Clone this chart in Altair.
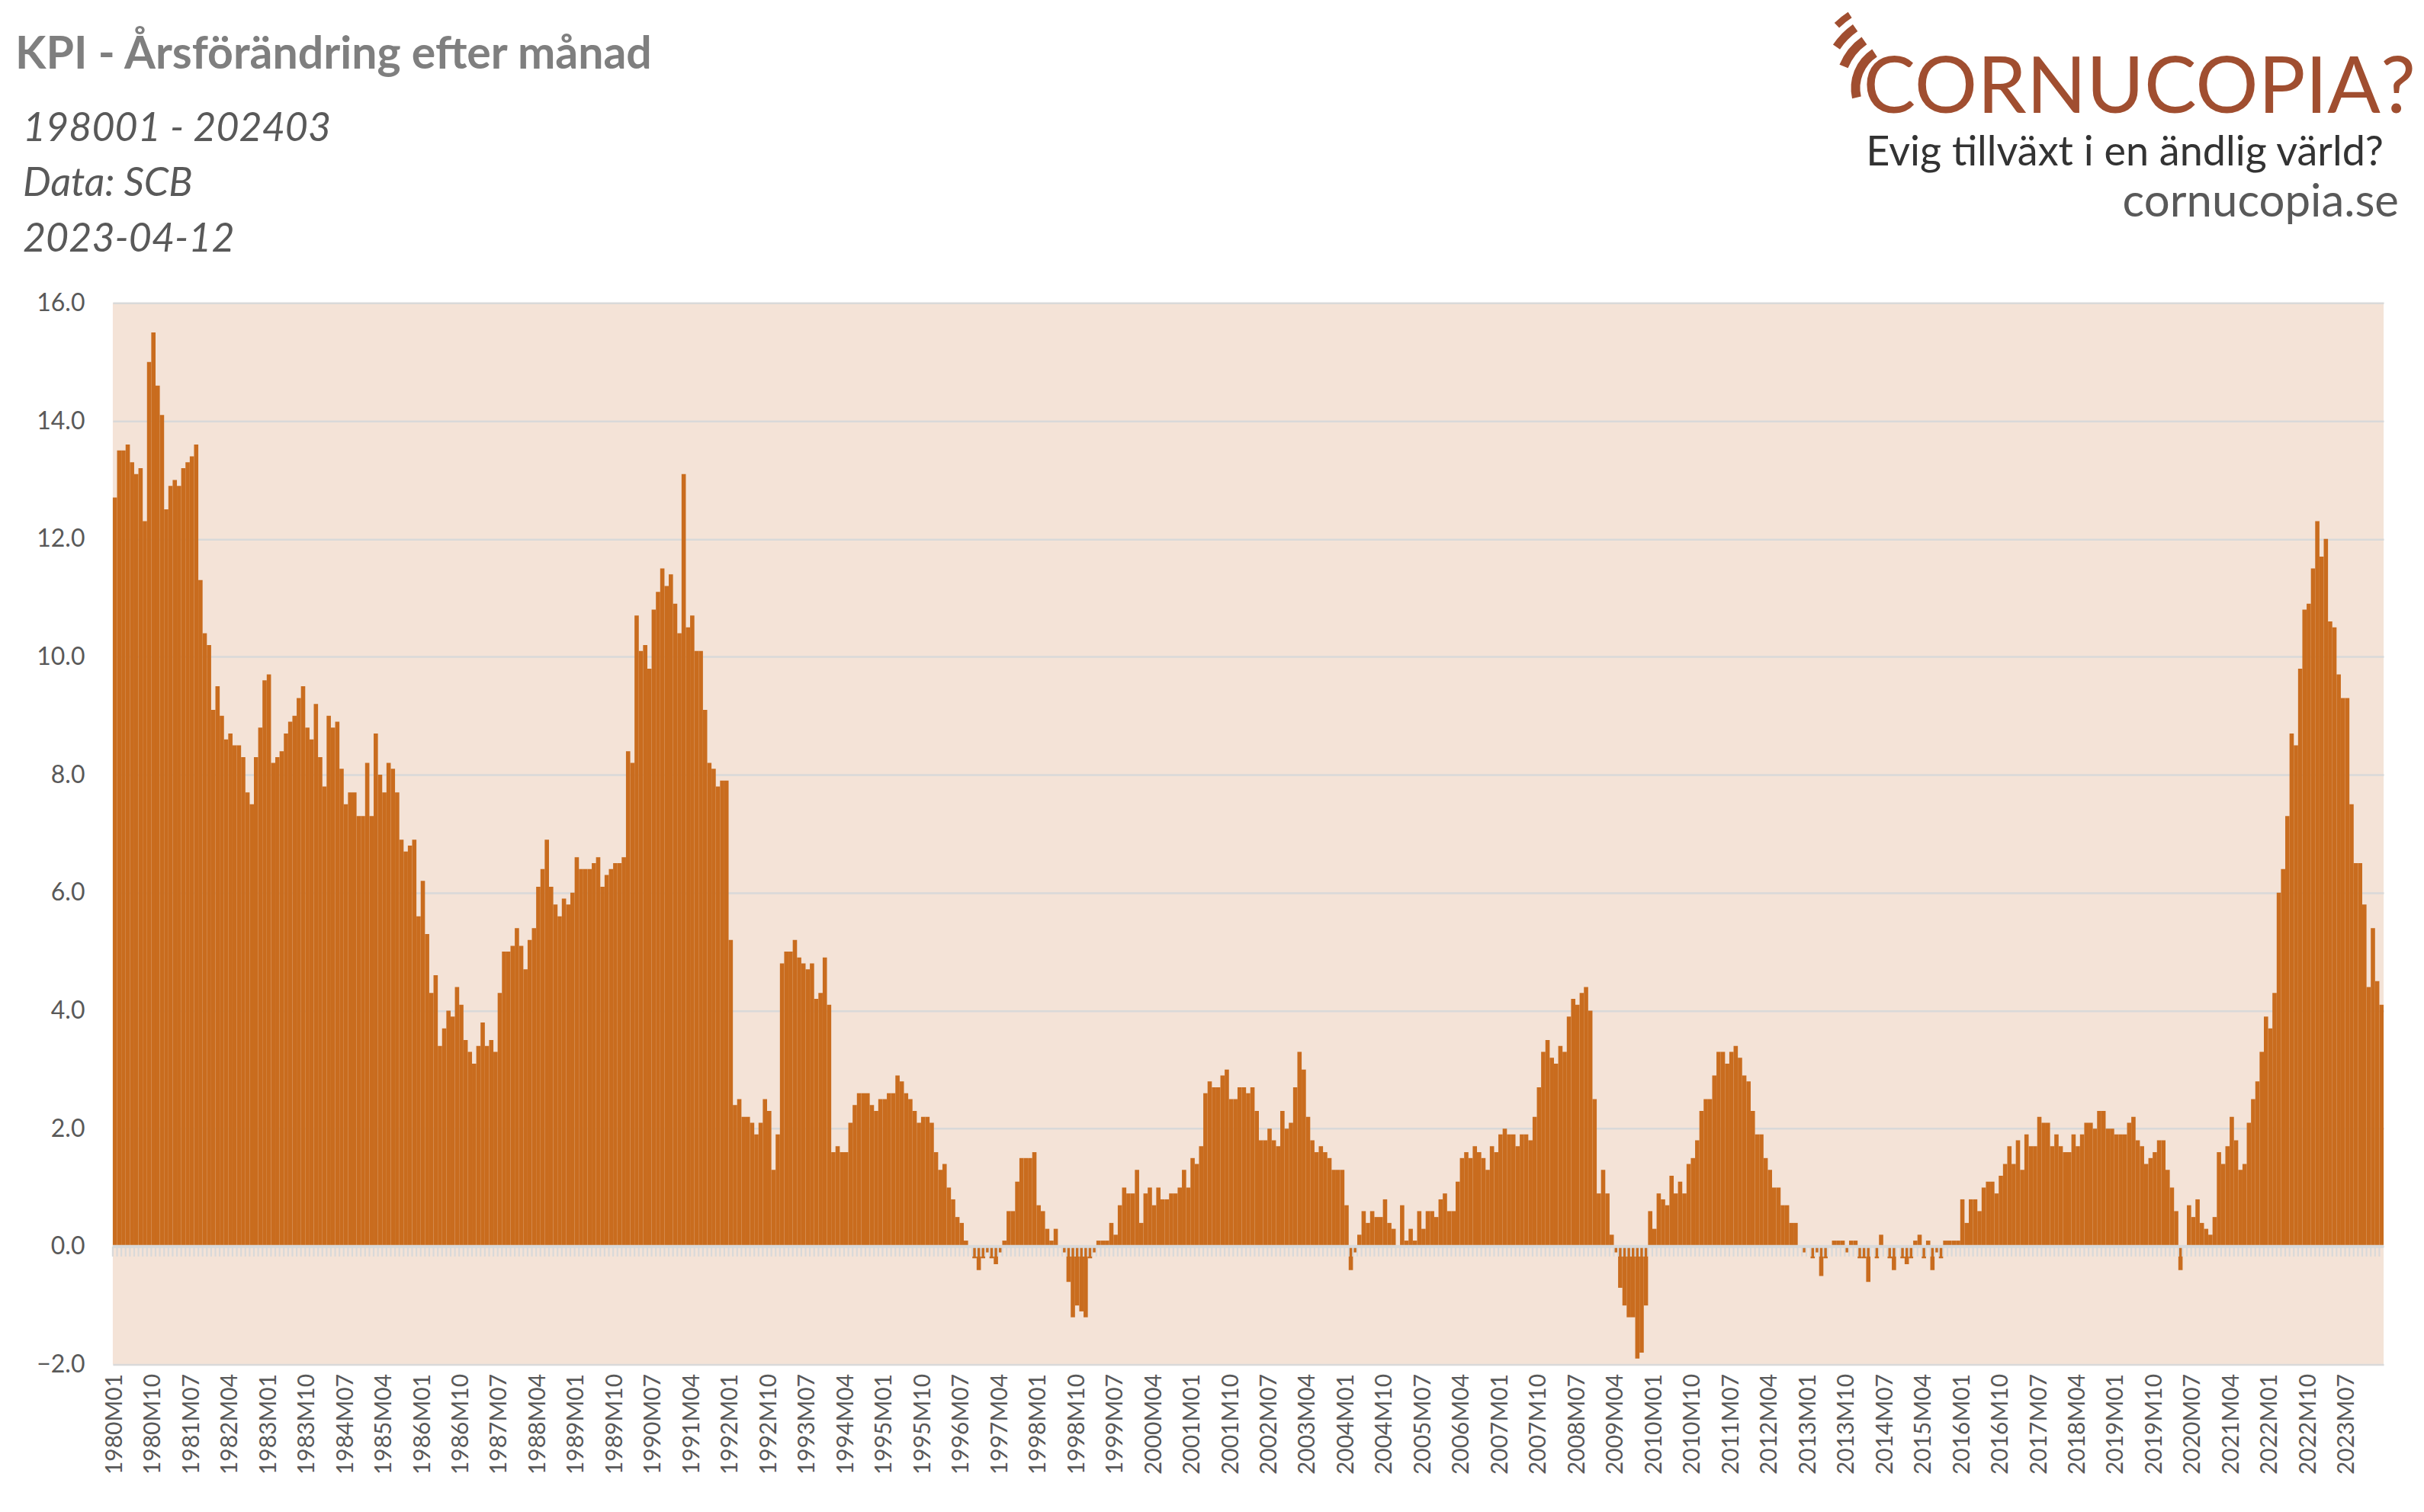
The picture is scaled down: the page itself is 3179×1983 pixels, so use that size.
import math
import altair as alt
import pandas as pd

# ---------------- texts ----------------
title_text = "KPI - Årsförändring efter månad"
subtitle_lines = ["198001 - 202403", "Data: SCB", "2023-04-12"]
logo_text = "CORNUCOPIA?"
slogan_text = "Evig tillväxt i en ändlig värld?"
site_text = "cornucopia.se"

# ---------------- data (KPI, annual change in %, per month) ----------------
kpi_1980 = [12.7, 13.5, 13.5, 13.6, 13.3, 13.1, 13.2, 12.3, 15.0, 15.5, 14.6, 14.1]
kpi_1981 = [12.5, 12.9, 13.0, 12.9, 13.2, 13.3, 13.4, 13.6, 11.3, 10.4, 10.2, 9.1]
kpi_1982 = [9.5, 9.0, 8.6, 8.7, 8.5, 8.5, 8.3, 7.7, 7.5, 8.3, 8.8, 9.6]
kpi_1983 = [9.7, 8.2, 8.3, 8.4, 8.7, 8.9, 9.0, 9.3, 9.5, 8.8, 8.6, 9.2]
kpi_1984 = [8.3, 7.8, 9.0, 8.8, 8.9, 8.1, 7.5, 7.7, 7.7, 7.3, 7.3, 8.2]
kpi_1985 = [7.3, 8.7, 8.0, 7.7, 8.2, 8.1, 7.7, 6.9, 6.7, 6.8, 6.9, 5.6]
kpi_1986 = [6.2, 5.3, 4.3, 4.6, 3.4, 3.7, 4.0, 3.9, 4.4, 4.1, 3.5, 3.3]
kpi_1987 = [3.1, 3.4, 3.8, 3.4, 3.5, 3.3, 4.3, 5.0, 5.0, 5.1, 5.4, 5.1]
kpi_1988 = [4.7, 5.2, 5.4, 6.1, 6.4, 6.9, 6.1, 5.8, 5.6, 5.9, 5.8, 6.0]
kpi_1989 = [6.6, 6.4, 6.4, 6.4, 6.5, 6.6, 6.1, 6.3, 6.4, 6.5, 6.5, 6.6]
kpi_1990 = [8.4, 8.2, 10.7, 10.1, 10.2, 9.8, 10.8, 11.1, 11.5, 11.2, 11.4, 10.9]
kpi_1991 = [10.4, 13.1, 10.5, 10.7, 10.1, 10.1, 9.1, 8.2, 8.1, 7.8, 7.9, 7.9]
kpi_1992 = [5.2, 2.4, 2.5, 2.2, 2.2, 2.1, 1.9, 2.1, 2.5, 2.3, 1.3, 1.9]
kpi_1993 = [4.8, 5.0, 5.0, 5.2, 4.9, 4.8, 4.7, 4.8, 4.2, 4.3, 4.9, 4.1]
kpi_1994 = [1.6, 1.7, 1.6, 1.6, 2.1, 2.4, 2.6, 2.6, 2.6, 2.4, 2.3, 2.5]
kpi_1995 = [2.5, 2.6, 2.6, 2.9, 2.8, 2.6, 2.5, 2.3, 2.1, 2.2, 2.2, 2.1]
kpi_1996 = [1.6, 1.3, 1.4, 1.0, 0.8, 0.5, 0.4, 0.1, 0.0, -0.2, -0.4, -0.2]
kpi_1997 = [-0.1, -0.2, -0.3, -0.1, 0.1, 0.6, 0.6, 1.1, 1.5, 1.5, 1.5, 1.6]
kpi_1998 = [0.7, 0.6, 0.3, 0.1, 0.3, 0.0, -0.1, -0.6, -1.2, -1.0, -1.1, -1.2]
kpi_1999 = [-0.2, -0.1, 0.1, 0.1, 0.1, 0.4, 0.2, 0.7, 1.0, 0.9, 0.9, 1.3]
kpi_2000 = [0.4, 0.9, 1.0, 0.7, 1.0, 0.8, 0.8, 0.9, 0.9, 1.0, 1.3, 1.0]
kpi_2001 = [1.5, 1.4, 1.7, 2.6, 2.8, 2.7, 2.7, 2.9, 3.0, 2.5, 2.5, 2.7]
kpi_2002 = [2.7, 2.6, 2.7, 2.3, 1.8, 1.8, 2.0, 1.8, 1.7, 2.3, 2.0, 2.1]
kpi_2003 = [2.7, 3.3, 3.0, 2.2, 1.8, 1.6, 1.7, 1.6, 1.5, 1.3, 1.3, 1.3]
kpi_2004 = [0.7, -0.4, -0.1, 0.2, 0.6, 0.4, 0.6, 0.5, 0.5, 0.8, 0.4, 0.3]
kpi_2005 = [0.0, 0.7, 0.1, 0.3, 0.1, 0.6, 0.3, 0.6, 0.6, 0.5, 0.8, 0.9]
kpi_2006 = [0.6, 0.6, 1.1, 1.5, 1.6, 1.5, 1.7, 1.6, 1.5, 1.3, 1.7, 1.6]
kpi_2007 = [1.9, 2.0, 1.9, 1.9, 1.7, 1.9, 1.9, 1.8, 2.2, 2.7, 3.3, 3.5]
kpi_2008 = [3.2, 3.1, 3.4, 3.3, 3.9, 4.2, 4.1, 4.3, 4.4, 4.0, 2.5, 0.9]
kpi_2009 = [1.3, 0.9, 0.2, -0.1, -0.7, -1.0, -1.2, -1.2, -1.9, -1.8, -1.0, 0.6]
kpi_2010 = [0.3, 0.9, 0.8, 0.7, 1.2, 0.9, 1.1, 0.9, 1.4, 1.5, 1.8, 2.3]
kpi_2011 = [2.5, 2.5, 2.9, 3.3, 3.3, 3.1, 3.3, 3.4, 3.2, 2.9, 2.8, 2.3]
kpi_2012 = [1.9, 1.9, 1.5, 1.3, 1.0, 1.0, 0.7, 0.7, 0.4, 0.4, 0.0, -0.1]
kpi_2013 = [0.0, -0.2, -0.1, -0.5, -0.2, 0.0, 0.1, 0.1, 0.1, -0.1, 0.1, 0.1]
kpi_2014 = [-0.2, -0.2, -0.6, 0.0, -0.2, 0.2, 0.0, -0.2, -0.4, 0.0, -0.2, -0.3]
kpi_2015 = [-0.2, 0.1, 0.2, -0.2, 0.1, -0.4, -0.1, -0.2, 0.1, 0.1, 0.1, 0.1]
kpi_2016 = [0.8, 0.4, 0.8, 0.8, 0.6, 1.0, 1.1, 1.1, 0.9, 1.2, 1.4, 1.7]
kpi_2017 = [1.4, 1.8, 1.3, 1.9, 1.7, 1.7, 2.2, 2.1, 2.1, 1.7, 1.9, 1.7]
kpi_2018 = [1.6, 1.6, 1.9, 1.7, 1.9, 2.1, 2.1, 2.0, 2.3, 2.3, 2.0, 2.0]
kpi_2019 = [1.9, 1.9, 1.9, 2.1, 2.2, 1.8, 1.7, 1.4, 1.5, 1.6, 1.8, 1.8]
kpi_2020 = [1.3, 1.0, 0.6, -0.4, 0.0, 0.7, 0.5, 0.8, 0.4, 0.3, 0.2, 0.5]
kpi_2021 = [1.6, 1.4, 1.7, 2.2, 1.8, 1.3, 1.4, 2.1, 2.5, 2.8, 3.3, 3.9]
kpi_2022 = [3.7, 4.3, 6.0, 6.4, 7.3, 8.7, 8.5, 9.8, 10.8, 10.9, 11.5, 12.3]
kpi_2023 = [11.7, 12.0, 10.6, 10.5, 9.7, 9.3, 9.3, 7.5, 6.5, 6.5, 5.8, 4.4]
kpi_2024 = [5.4, 4.5, 4.1]

kpi_by_year = [
    kpi_1980, kpi_1981, kpi_1982, kpi_1983, kpi_1984, kpi_1985, kpi_1986,
    kpi_1987, kpi_1988, kpi_1989, kpi_1990, kpi_1991, kpi_1992, kpi_1993,
    kpi_1994, kpi_1995, kpi_1996, kpi_1997, kpi_1998, kpi_1999, kpi_2000,
    kpi_2001, kpi_2002, kpi_2003, kpi_2004, kpi_2005, kpi_2006, kpi_2007,
    kpi_2008, kpi_2009, kpi_2010, kpi_2011, kpi_2012, kpi_2013, kpi_2014,
    kpi_2015, kpi_2016, kpi_2017, kpi_2018, kpi_2019, kpi_2020, kpi_2021,
    kpi_2022, kpi_2023, kpi_2024,
]
years = list(range(1980, 2025))

months, values = [], []
for yr, vals in zip(years, kpi_by_year):
    for mi, v in enumerate(vals):
        months.append(f"{yr}M{mi + 1:02d}")
        values.append(v)

label_months = months[::9]
y_ticks = [-2, 0, 2, 4, 6, 8, 10, 12, 14, 16]

df = pd.DataFrame({"month": months, "kpi": values})

# ---------------- styles ----------------
FONT = "Lato"
BAR = "#C96C1E"
BG = "#F4E3D7"
GRID = "#D9D9D9"
LABEL = "#595959"
LOGO = "#A04E30"

x_axis = alt.Axis(
    values=label_months, labelAngle=270, labelAlign="right", labelBaseline="middle",
    labelFont=FONT, labelFontSize=30, labelColor=LABEL, labelPadding=12,
    ticks=False, domain=False, grid=False, labelOverlap=False, title=None,
)
y_axis = alt.Axis(
    values=y_ticks, format=".1f", labelFont=FONT, labelFontSize=32, labelColor=LABEL,
    labelPadding=37, ticks=False, domain=False, grid=True, gridColor=GRID,
    gridWidth=2.5, title=None,
)

x_scale = alt.Scale(paddingInner=0, paddingOuter=0)
y_scale = alt.Scale(domain=[-2, 16], nice=False)

bars = alt.Chart(df).mark_bar(color=BAR).encode(
    x=alt.X("month:O", scale=x_scale, axis=x_axis, title=None),
    y=alt.Y("kpi:Q", scale=y_scale, axis=y_axis, title=None),
)

ticks = alt.Chart(df).mark_rule(color=GRID, strokeWidth=2.2).encode(
    x=alt.X("month:O", bandPosition=0, title=None),
    y=alt.datum(0),
    y2=alt.datum(-0.17),
)

one = pd.DataFrame({"k": [0]})
zero_line = alt.Chart(one).mark_rule(color=GRID, strokeWidth=4).encode(y=alt.datum(0))

layers = [bars, ticks, zero_line]

# header texts (view coordinates: origin at plot top-left)
layers.append(
    alt.Chart(pd.DataFrame({"t": [title_text]})).mark_text(
        font=FONT, fontSize=59, fontWeight="bold", color="#7F7F7F",
        align="left", baseline="alphabetic",
    ).encode(x=alt.value(-128), y=alt.value(-308), text="t:N")
)
for line, yy in zip(subtitle_lines, [-213, -140, -67]):
    layers.append(
        alt.Chart(pd.DataFrame({"t": [line]})).mark_text(
            font=FONT, fontSize=52, fontStyle="italic", color=LABEL,
            align="left", baseline="alphabetic",
        ).encode(x=alt.value(-118), y=alt.value(yy), text="t:N")
    )

layers.append(
    alt.Chart(pd.DataFrame({"t": [logo_text]})).mark_text(
        font=FONT, fontSize=103, color=LOGO, align="right", baseline="alphabetic",
    ).encode(x=alt.value(3022), y=alt.value(-250), text="t:N")
)
layers.append(
    alt.Chart(pd.DataFrame({"t": [slogan_text]})).mark_text(
        font=FONT, fontSize=54, color="#333333", align="right", baseline="alphabetic",
    ).encode(x=alt.value(2980), y=alt.value(-180), text="t:N")
)
layers.append(
    alt.Chart(pd.DataFrame({"t": [site_text]})).mark_text(
        font=FONT, fontSize=60, color=LABEL, align="right", baseline="alphabetic",
    ).encode(x=alt.value(3000), y=alt.value(-113), text="t:N")
)

# logo arcs (decoration): inner radius, outer radius, start angle, end angle
arc_specs = [(49, 61, 257, 327), (70, 82, 292, 325), (91, 102, 304, 325), (110, 119, 316, 327)]
for r1, r2, a1, a2 in arc_specs:
    layers.append(
        alt.Chart(one).mark_arc(color=LOGO).encode(
            x=alt.value(2342), y=alt.value(-282),
            theta=alt.value(math.radians(a1)), theta2=alt.value(math.radians(a2)),
            radius=alt.value(r2), radius2=alt.value(r1),
        )
    )

chart = alt.layer(*layers).properties(
    width=2980,
    height=1393,
    autosize=alt.AutoSizeParams(type="none"),
    padding={"left": 140, "top": 389, "right": 45, "bottom": 175},
    background="white",
).configure_view(fill=BG, stroke=None)

chart.save("out.html", embed_options={"renderer": "svg", "actions": False})
